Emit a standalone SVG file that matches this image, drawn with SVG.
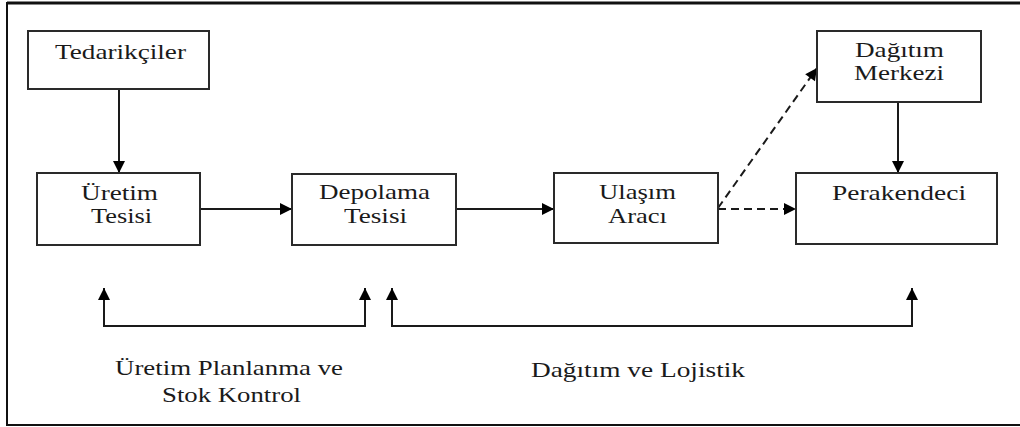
<svg xmlns="http://www.w3.org/2000/svg" width="1020" height="427" viewBox="0 0 1020 427">
<style>
.box{fill:#fff;stroke:#2a2a2a;stroke-width:2}
.c{fill:none;stroke:#1a1a1a;stroke-width:2}
.d{fill:none;stroke:#1a1a1a;stroke-width:2;stroke-dasharray:8,5}
</style>
<defs>
<marker id="ah" markerUnits="userSpaceOnUse" markerWidth="14" markerHeight="14" viewBox="0 0 14 14" refX="13" refY="7" orient="auto">
<path d="M1,1 L13,7 L1,13 Z" fill="#000"/>
</marker>
</defs>
<rect x="0" y="0" width="1020" height="427" fill="#fff"/>
<g id="frame" fill="none" stroke="#111">
<line x1="7" y1="3" x2="1020" y2="3" stroke-width="3"/>
<line x1="7" y1="2" x2="7" y2="426" stroke-width="2"/>
<line x1="7" y1="425" x2="1020" y2="425" stroke-width="2"/>
</g>
<g id="connectors">
<line class="c" x1="119" y1="89" x2="119" y2="173" marker-end="url(#ah)"/>
<line class="c" x1="898" y1="102" x2="898" y2="173" marker-end="url(#ah)"/>
<line class="c" x1="200" y1="209" x2="292" y2="209" marker-end="url(#ah)"/>
<line class="c" x1="456" y1="209" x2="554" y2="209" marker-end="url(#ah)"/>
<line class="d" x1="718" y1="209" x2="796" y2="209" marker-end="url(#ah)"/>
<line class="d" x1="718" y1="208" x2="817" y2="68" marker-end="url(#ah)"/>
<polyline class="c" points="104,326 365,326"/>
<line class="c" x1="104" y1="327" x2="104" y2="288" marker-end="url(#ah)"/>
<line class="c" x1="365" y1="327" x2="365" y2="288" marker-end="url(#ah)"/>
<polyline class="c" points="392,326 912,326"/>
<line class="c" x1="392" y1="327" x2="392" y2="288" marker-end="url(#ah)"/>
<line class="c" x1="912" y1="327" x2="912" y2="288" marker-end="url(#ah)"/>
</g>
<g font-family="'Liberation Serif', serif" font-size="22" fill="#1a1a1a" text-anchor="middle">
<g id="tedarikciler">
<rect class="box" x="28" y="31" width="181" height="58"/>
<text x="120.5" y="59" textLength="131" lengthAdjust="spacingAndGlyphs">Tedarikçiler</text>
</g>
<g id="uretim-tesisi">
<rect class="box" x="37" y="173" width="163" height="72"/>
<text x="119.5" y="200" textLength="77" lengthAdjust="spacingAndGlyphs">Üretim</text>
<text x="121.5" y="223" textLength="61" lengthAdjust="spacingAndGlyphs">Tesisi</text>
</g>
<g id="depolama-tesisi">
<rect class="box" x="292" y="174" width="164" height="71"/>
<text x="374.5" y="199" textLength="111" lengthAdjust="spacingAndGlyphs">Depolama</text>
<text x="375.5" y="223" textLength="63" lengthAdjust="spacingAndGlyphs">Tesisi</text>
</g>
<g id="ulasim-araci">
<rect class="box" x="554" y="173" width="164" height="70"/>
<text x="637.5" y="199" textLength="77" lengthAdjust="spacingAndGlyphs">Ulaşım</text>
<text x="637.5" y="223" textLength="59" lengthAdjust="spacingAndGlyphs">Aracı</text>
</g>
<g id="dagitim-merkezi">
<rect class="box" x="817" y="31" width="164" height="71"/>
<text x="899.5" y="57" textLength="89" lengthAdjust="spacingAndGlyphs">Dağıtım</text>
<text x="899" y="80" textLength="90" lengthAdjust="spacingAndGlyphs">Merkezi</text>
</g>
<g id="perakendeci">
<rect class="box" x="796" y="173" width="201" height="71"/>
<text x="899" y="200" textLength="134" lengthAdjust="spacingAndGlyphs">Perakendeci</text>
</g>
<g id="labels">
<text x="229" y="375" textLength="228" lengthAdjust="spacingAndGlyphs">Üretim Planlanma ve</text>
<text x="231.5" y="402" textLength="139" lengthAdjust="spacingAndGlyphs">Stok Kontrol</text>
<text x="638" y="377" textLength="214" lengthAdjust="spacingAndGlyphs">Dağıtım ve Lojistik</text>
</g>
</g>
</svg>
